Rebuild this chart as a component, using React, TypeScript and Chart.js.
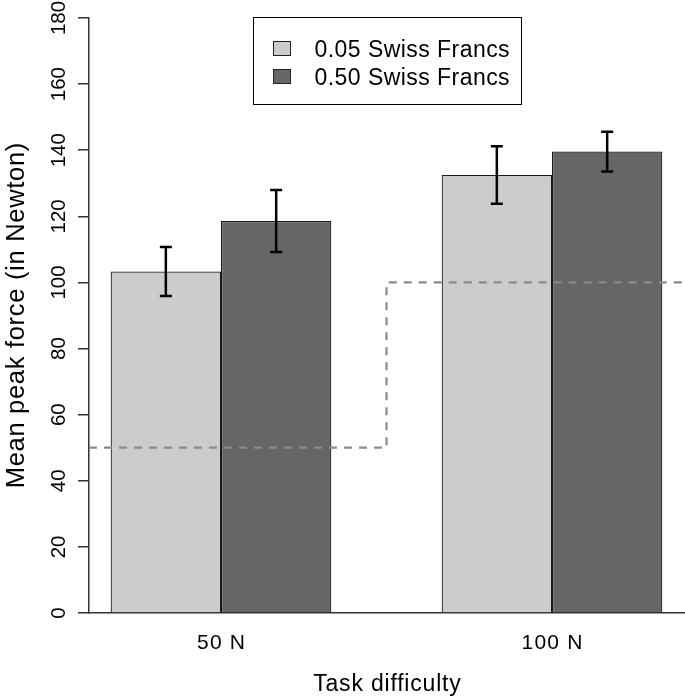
import React, { useEffect, useRef } from "react";
import { Chart, registerables } from "chart.js";

Chart.register(...registerables);

// ---------- data ----------
const categories = ["50 N", "100 N"];
const seriesLabels = ["0.05 Swiss Francs", "0.50 Swiss Francs"];
const meanLow = [103.3, 132.5];
const meanHigh = [118.6, 139.6];
const errLow = [7.4, 8.7];
const errHigh = [9.4, 6.0];
const targetForce = [50, 100];
const yTickValues = [0, 20, 40, 60, 80, 100, 120, 140, 160, 180];
const xAxisTitle = "Task difficulty";
const yAxisTitle = "Mean peak force (in Newton)";

// ---------- style ----------
const FONT = '"Liberation Sans", Arial, Helvetica, sans-serif';
const barFills = ["#cccccc", "#666666"];
const axisColor = "#333333";
const X_MIN = -0.3988;
const X_MAX = 1.4018;

const errorsBySeries = [errLow, errHigh];

function drawText(
  ctx: any,
  text: string,
  x: number,
  y: number,
  size: number,
  spacing: number,
  rotate: boolean,
  align: string = "center"
) {
  ctx.save();
  ctx.font = `${size}px ${FONT}`;
  try {
    ctx.letterSpacing = `${spacing}px`;
  } catch (e) {}
  ctx.fillStyle = "#000";
  ctx.textAlign = align;
  ctx.textBaseline = "alphabetic";
  ctx.translate(x, y);
  if (rotate) ctx.rotate(-Math.PI / 2);
  ctx.fillText(text, align === "center" ? spacing / 2 : 0, 0);
  ctx.restore();
}

const decorPlugin = {
  id: "decor",
  afterDatasetsDraw(chart: any) {
    const ctx = chart.ctx;
    const ys = chart.scales.y;
    ctx.save();
    ctx.strokeStyle = "#000";
    ctx.lineWidth = 2.5;
    ctx.lineCap = "butt";
    chart.data.datasets.forEach((ds: any, di: number) => {
      if (ds.type !== "bar") return;
      const meta = chart.getDatasetMeta(di);
      const errs = errorsBySeries[ds.seriesIndex];
      meta.data.forEach((el: any, i: number) => {
        const v = ds.data[i].y;
        const e = errs[i];
        const x = el.x;
        const yTop = ys.getPixelForValue(v + e);
        const yBot = ys.getPixelForValue(v - e);
        const cap = 6;
        ctx.beginPath();
        ctx.moveTo(x, yTop);
        ctx.lineTo(x, yBot);
        ctx.moveTo(x - cap, yTop);
        ctx.lineTo(x + cap, yTop);
        ctx.moveTo(x - cap, yBot);
        ctx.lineTo(x + cap, yBot);
        ctx.stroke();
      });
    });
    ctx.restore();
  },
  afterDraw(chart: any) {
    const ctx = chart.ctx;
    const ys = chart.scales.y;
    const xs = chart.scales.x;
    const area = chart.chartArea;
    const cx = (area.left + area.right) / 2;
    const cy = (area.top + area.bottom) / 2;

    // y tick labels (rotated)
    for (const t of ys.ticks) {
      drawText(ctx, String(t.value), ys.right - 24, ys.getPixelForValue(t.value), 20.5, 0, true);
    }
    // x tick labels
    for (const t of xs.ticks) {
      drawText(ctx, categories[t.value], xs.getPixelForValue(t.value), area.bottom + 36, 21, 1.2, false);
    }
    // axis titles
    drawText(ctx, xAxisTitle, cx, xs.bottom - 9, 23, 0.8, false);
    drawText(ctx, yAxisTitle, ys.left + 23.5, cy, 25.5, 0.7, true);

    // legend box
    const boxW = 268;
    const boxH = 87;
    const boxL = Math.round(cx - boxW / 2) + 0.5;
    const boxT = area.top - 1 + 0.5;
    ctx.save();
    ctx.fillStyle = "#fff";
    ctx.fillRect(boxL, boxT, boxW, boxH);
    ctx.strokeStyle = "#000";
    ctx.lineWidth = 1;
    ctx.strokeRect(boxL, boxT, boxW, boxH);
    const barSets = chart.data.datasets.filter((d: any) => d.type === "bar");
    barSets.forEach((ds: any, i: number) => {
      const rowY = boxT + 31 + i * 28;
      ctx.fillStyle = ds.backgroundColor;
      ctx.fillRect(boxL + 20, rowY - 7, 17, 14);
      ctx.strokeStyle = "#222";
      ctx.lineWidth = 1;
      ctx.strokeRect(boxL + 20, rowY - 7, 17, 14);
      drawText(ctx, ds.label, boxL + 61, rowY + 8, 23, 0.45, false, "left");
    });
    ctx.restore();
  },
};

function buildTargetLine() {
  const pts: { x: number; y: number }[] = [];
  targetForce.forEach((lvl, i) => {
    const left = i === 0 ? X_MIN : i - 0.5;
    const right = i === targetForce.length - 1 ? X_MAX : i + 0.5;
    pts.push({ x: left, y: lvl });
    pts.push({ x: right, y: lvl });
  });
  return pts;
}

export default function App() {
  const ref = useRef<HTMLCanvasElement | null>(null);

  useEffect(() => {
    if (!ref.current) return;
    const chart = new Chart(ref.current, {
      type: "bar",
      data: {
        datasets: [
          {
            type: "line",
            label: "target",
            data: buildTargetLine(),
            borderColor: "#8a8a8a",
            borderWidth: 2.2,
            borderDash: [8, 7],
            pointRadius: 0,
            fill: false,
            tension: 0,
            order: 0,
          } as any,
          {
            type: "bar",
            label: seriesLabels[0],
            seriesIndex: 0,
            data: categories.map((_, i) => ({ x: i, y: meanLow[i] })),
            backgroundColor: barFills[0],
            borderColor: "#1a1a1a",
            borderWidth: 1.2,
            borderSkipped: "bottom",
            order: 1,
          } as any,
          {
            type: "bar",
            label: seriesLabels[1],
            seriesIndex: 1,
            data: categories.map((_, i) => ({ x: i, y: meanHigh[i] })),
            backgroundColor: barFills[1],
            borderColor: "#1a1a1a",
            borderWidth: 1.2,
            borderSkipped: "bottom",
            order: 1,
          } as any,
        ],
      },
      options: {
        animation: false,
        responsive: false,
        maintainAspectRatio: false,
        layout: { padding: { top: 18, right: 0, left: 0, bottom: 0 } },
        datasets: {
          bar: { categoryPercentage: 0.6667, barPercentage: 1.0 },
        },
        plugins: {
          legend: { display: false },
          tooltip: { enabled: false },
        },
        scales: {
          x: {
            type: "linear",
            min: X_MIN,
            max: X_MAX,
            offset: false,
            afterBuildTicks(scale: any) {
              scale.ticks = categories.map((_, i) => ({ value: i }));
            },
            afterFit(scale: any) {
              scale.height = 87;
            },
            grid: { display: false, drawTicks: false },
            border: { display: true, color: axisColor, width: 1.5 },
            ticks: { display: false },
            title: { display: false, text: xAxisTitle },
          },
          y: {
            type: "linear",
            min: 0,
            max: 180,
            afterBuildTicks(scale: any) {
              scale.ticks = yTickValues.map((v) => ({ value: v }));
            },
            afterFit(scale: any) {
              scale.width = 89;
            },
            grid: {
              display: true,
              drawOnChartArea: false,
              drawTicks: true,
              tickLength: 11,
              color: axisColor,
              lineWidth: 1.5,
            },
            border: { display: true, color: axisColor, width: 1.5 },
            ticks: { display: false },
            title: { display: false, text: yAxisTitle },
          },
        },
      },
      plugins: [decorPlugin],
    } as any);
    return () => chart.destroy();
  }, []);

  return (
    <div style={{ position: "fixed", left: 0, top: 0, width: 685, height: 700, background: "#fff" }}>
      <canvas ref={ref} width={685} height={700} style={{ display: "block" }} />
    </div>
  );
}
